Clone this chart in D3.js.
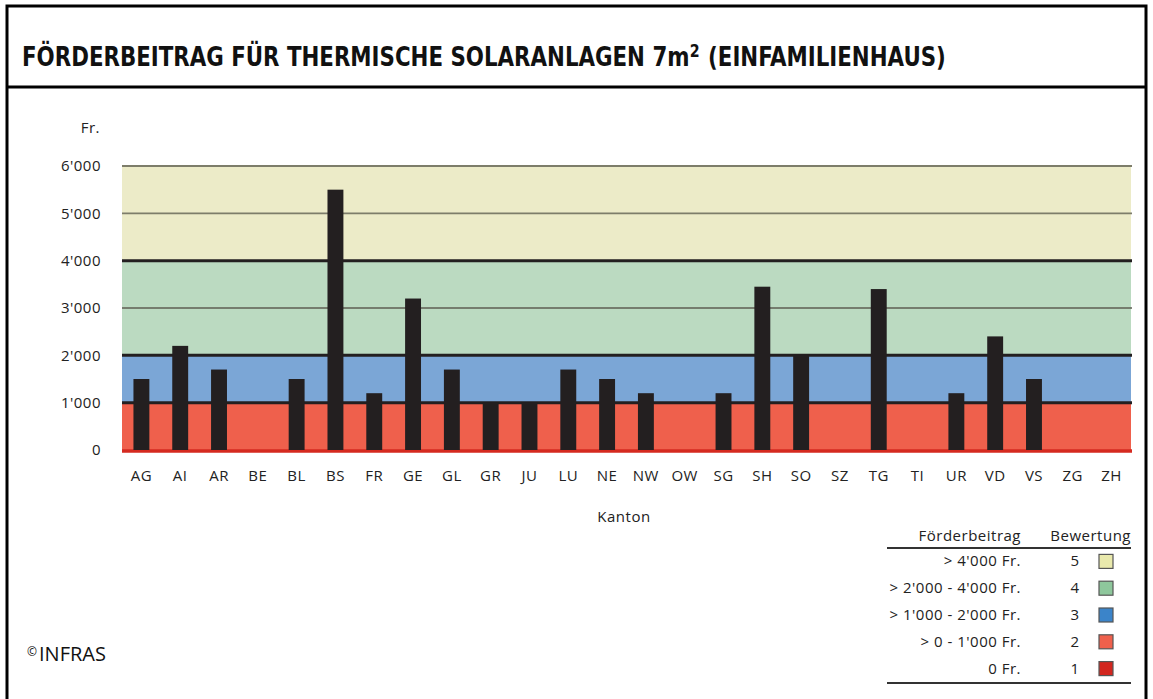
<!DOCTYPE html>
<html><head><meta charset="utf-8">
<script src="https://cdn.jsdelivr.net/npm/d3@7"></script>
<style>
body{margin:0;background:#fff;}
svg{display:block;}
</style></head><body>
<svg id="chart" width="1153" height="699"></svg>
<script>
const categories = ["AG","AI","AR","BE","BL","BS","FR","GE","GL","GR","JU","LU","NE","NW","OW","SG","SH","SO","SZ","TG","TI","UR","VD","VS","ZG","ZH"];
const values = [1500,2200,1700,0,1500,5500,1200,3200,1700,1000,1000,1700,1500,1200,0,1200,3450,2000,0,3400,0,1200,2400,1500,0,0];
const yTicks = [0,1000,2000,3000,4000,5000,6000];
const bandBounds = [[0,1000],[1000,2000],[2000,4000],[4000,6000]];
const bandColors = ["#ef604c","#7ba6d6","#bbdac1","#ecebc8"];
const legendLabels = ["> 4'000 Fr.","> 2'000 - 4'000 Fr.","> 1'000 - 2'000 Fr.","> 0 - 1'000 Fr.","0 Fr."];
const legendScores = ["5","4","3","2","1"];
const legendColors = ["#e9e9ac","#8ec79c","#3b84c9","#ef604c","#d2261f"];
const titleParts = ["FÖRDERBEITRAG FÜR THERMISCHE SOLARANLAGEN 7m", "2", "\u00a0(EINFAMILIENHAUS)"];

const svg = d3.select("#chart");
const font = "'DejaVu Sans Condensed','DejaVu Sans',sans-serif";
const textFont = "'Open Sans','DejaVu Sans',sans-serif";
const fs = 15, ls = 0.5;

function txt(sel){ return sel.attr("font-family",textFont).attr("font-size",fs).attr("letter-spacing",ls).attr("fill","#222"); }

// frame
svg.append("rect").attr("x",7).attr("y",6).attr("width",1139).attr("height",710)
  .attr("fill","none").attr("stroke","#000").attr("stroke-width",3);
svg.append("line").attr("x1",7).attr("x2",1146).attr("y1",87).attr("y2",87)
  .attr("stroke","#000").attr("stroke-width",3);

// title as separate pieces, then scaled to the reference width
const tg = svg.append("g");
let cx = 0;
titleParts.forEach((p,i)=>{
  const el = tg.append("text").attr("x",cx).attr("y", i===1 ? -9 : 0)
    .attr("font-family",font).attr("font-weight","bold").attr("font-size", i===1 ? 18 : 27)
    .attr("fill","#111").text(p);
  cx += el.node().getComputedTextLength() + (i===1 ? 1 : 0);
});
const sx = 924 / cx;
tg.attr("transform",`translate(22,66) scale(${sx},1)`);

const x = d3.scaleBand().domain(categories).range([122,1131]).paddingInner(0.59).paddingOuter(0.295);
const y = d3.scaleLinear().domain([0,6000]).range([450,166]);

// bands
svg.append("g").selectAll("rect").data(bandBounds).join("rect")
  .attr("x",122).attr("width",1009)
  .attr("y",d=>y(d[1])).attr("height",d=>y(d[0])-y(d[1]))
  .attr("fill",(d,i)=>bandColors[i]);

// grid lines
const lineStyle = {0:["#d52a20",3.5],1000:["#231f20",3],2000:["#231f20",3],3000:["#5e5e52",1.3],4000:["#231f20",3],5000:["#7d7d6a",1.8],6000:["#7d7d6a",1.8]};
svg.append("g").selectAll("line").data(yTicks).join("line")
  .attr("x1",122).attr("x2",1132)
  .attr("y1",d=>y(d)+(d===0?1:0)).attr("y2",d=>y(d)+(d===0?1:0))
  .attr("stroke",d=>lineStyle[d][0]).attr("stroke-width",d=>lineStyle[d][1]);

// bars
svg.append("g").selectAll("rect").data(values).join("rect")
  .attr("x",(d,i)=>x(categories[i])).attr("width",x.bandwidth())
  .attr("y",d=>y(d)).attr("height",d=>y(0)-y(d))
  .attr("fill","#231f20");

// y axis
const yAxis = d3.axisLeft(y).tickValues(yTicks).tickSize(0).tickPadding(0)
  .tickFormat(d=>d===0?"0":d3.format(",")(d).replace(",","'"));
const yg = svg.append("g").attr("transform","translate(101,0)").call(yAxis);
yg.select(".domain").remove();
txt(yg.selectAll("text"));

txt(svg.append("text").attr("x",100).attr("y",133).attr("text-anchor","end")).text("Fr.");

// x axis
const xAxis = d3.axisBottom(x).tickSize(0).tickPadding(0);
const xg = svg.append("g").attr("transform","translate(0,470)").call(xAxis);
xg.select(".domain").remove();
txt(xg.selectAll("text"));

txt(svg.append("text").attr("x",624).attr("y",522).attr("text-anchor","middle")).text("Kanton");

// legend
const lg = svg.append("g");
txt(lg.append("text").attr("x",1021).attr("y",541).attr("text-anchor","end")).text("Förderbeitrag");
txt(lg.append("text").attr("x",1131).attr("y",541).attr("text-anchor","end")).text("Bewertung");
lg.append("line").attr("x1",887).attr("x2",1131).attr("y1",548).attr("y2",548).attr("stroke","#333").attr("stroke-width",2);
lg.append("line").attr("x1",887).attr("x2",1131).attr("y1",683).attr("y2",683).attr("stroke","#333").attr("stroke-width",2);
const rowY = d3.scaleBand().domain(legendScores).range([548,682]);
const rows = lg.selectAll("g.row").data(legendLabels).join("g").attr("class","row")
  .attr("transform",(d,i)=>`translate(0,${rowY(legendScores[i])+rowY.bandwidth()/2})`);
txt(rows.append("text").attr("x",1021).attr("y",5).attr("text-anchor","end")).text(d=>d);
txt(rows.append("text").attr("x",1075).attr("y",5).attr("text-anchor","middle")).text((d,i)=>legendScores[i]);
rows.append("rect").attr("x",1099).attr("y",-7).attr("width",14).attr("height",14)
  .attr("fill",(d,i)=>legendColors[i]).attr("stroke","#555").attr("stroke-width",1.2);

svg.append("text").attr("x",27).attr("y",656)
  .attr("font-family",textFont).attr("font-size",12).attr("fill","#111").text("©");
svg.append("text").attr("x",39).attr("y",661)
  .attr("font-family",textFont).attr("font-size",20).attr("fill","#111").text("INFRAS");
</script>
</body></html>
